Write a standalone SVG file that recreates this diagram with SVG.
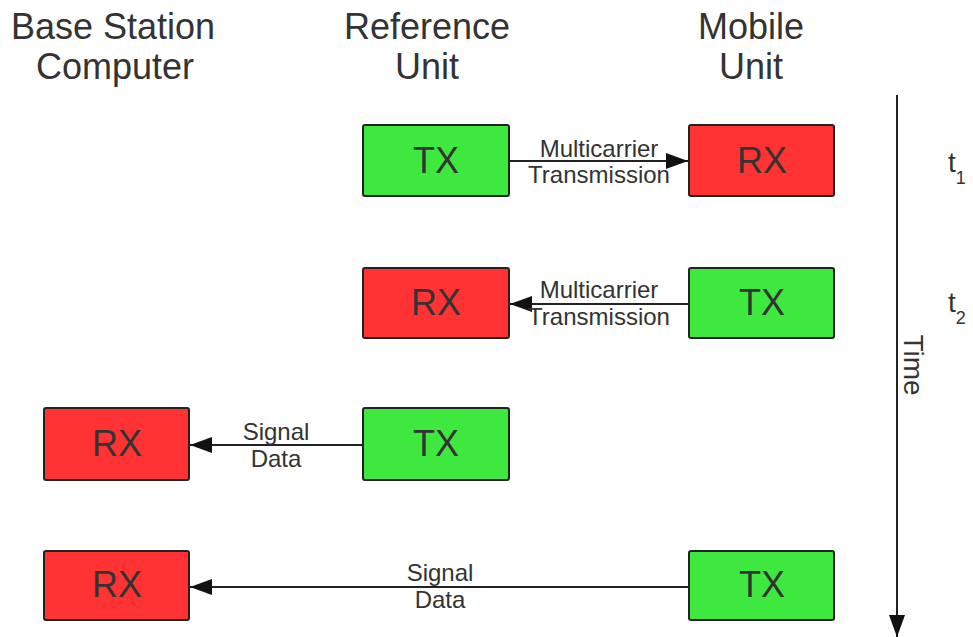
<svg xmlns="http://www.w3.org/2000/svg" width="973" height="637" viewBox="0 0 973 637">
<style>
text{font-family:Arial,"Liberation Sans",Arimo,sans-serif;fill:#333}
.hdr{font-size:36px;text-anchor:middle}
.box{stroke:#222;stroke-width:2}
.tx{fill:#3ee83e}
.rx{fill:#ff3333}
.bl{font-size:36px;text-anchor:middle}
.el{font-size:24px;text-anchor:middle}
.ln{stroke:#222;stroke-width:2;fill:none}
.t{font-size:28px}
.sub{font-size:18px}
</style>
<defs>
<marker id="ah" viewBox="0 0 22 16" refX="22" refY="8" markerWidth="22" markerHeight="16" markerUnits="userSpaceOnUse" orient="auto">
<path d="M0,0 L22,8 L0,16 z" fill="#111"/>
</marker>
</defs>
<rect width="973" height="637" fill="#fff"/>
<g id="headers">
<text class="hdr" x="113" y="39">Base Station</text>
<text class="hdr" x="115" y="79">Computer</text>
<text class="hdr" x="427" y="39">Reference</text>
<text class="hdr" x="427" y="79">Unit</text>
<text class="hdr" x="751" y="39">Mobile</text>
<text class="hdr" x="751" y="79">Unit</text>
</g>
<g id="connectors">
<line class="ln" x1="509" y1="161" x2="688" y2="161" marker-end="url(#ah)"/>
<line class="ln" x1="689" y1="304" x2="510" y2="304" marker-end="url(#ah)"/>
<line class="ln" x1="363" y1="445" x2="190" y2="445" marker-end="url(#ah)"/>
<line class="ln" x1="689" y1="587" x2="190" y2="587" marker-end="url(#ah)"/>
<line class="ln" x1="897" y1="95" x2="897" y2="637" marker-end="url(#ah)"/>
<text class="el" x="599" y="157">Multicarrier</text>
<text class="el" x="599" y="183">Transmission</text>
<text class="el" x="599" y="298">Multicarrier</text>
<text class="el" x="599" y="325">Transmission</text>
<text class="el" x="276" y="440">Signal</text>
<text class="el" x="276" y="467">Data</text>
<text class="el" x="440" y="581">Signal</text>
<text class="el" x="440" y="608">Data</text>
</g>
<g id="ref-tx-1"><rect class="box tx" x="363" y="125" width="146" height="71" rx="2"/><text class="bl" x="436" y="173">TX</text></g>
<g id="mob-rx-1"><rect class="box rx" x="689" y="125" width="145" height="71" rx="2"/><text class="bl" x="762" y="173">RX</text></g>
<g id="ref-rx-2"><rect class="box rx" x="363" y="268" width="146" height="70" rx="2"/><text class="bl" x="436" y="315">RX</text></g>
<g id="mob-tx-2"><rect class="box tx" x="689" y="268" width="145" height="70" rx="2"/><text class="bl" x="762" y="315">TX</text></g>
<g id="base-rx-3"><rect class="box rx" x="44" y="408" width="145" height="72" rx="2"/><text class="bl" x="117" y="456">RX</text></g>
<g id="ref-tx-3"><rect class="box tx" x="363" y="408" width="146" height="72" rx="2"/><text class="bl" x="436" y="456">TX</text></g>
<g id="base-rx-4"><rect class="box rx" x="44" y="551" width="145" height="69" rx="2"/><text class="bl" x="117" y="597">RX</text></g>
<g id="mob-tx-4"><rect class="box tx" x="689" y="551" width="145" height="69" rx="2"/><text class="bl" x="762" y="597">TX</text></g>
<g id="time">
<text class="t" x="948" y="172">t<tspan class="sub" dy="12">1</tspan></text>
<text class="t" x="948" y="312">t<tspan class="sub" dy="12">2</tspan></text>
<text class="t" transform="translate(904,365) rotate(90)" text-anchor="middle">Time</text>
</g>
</svg>
